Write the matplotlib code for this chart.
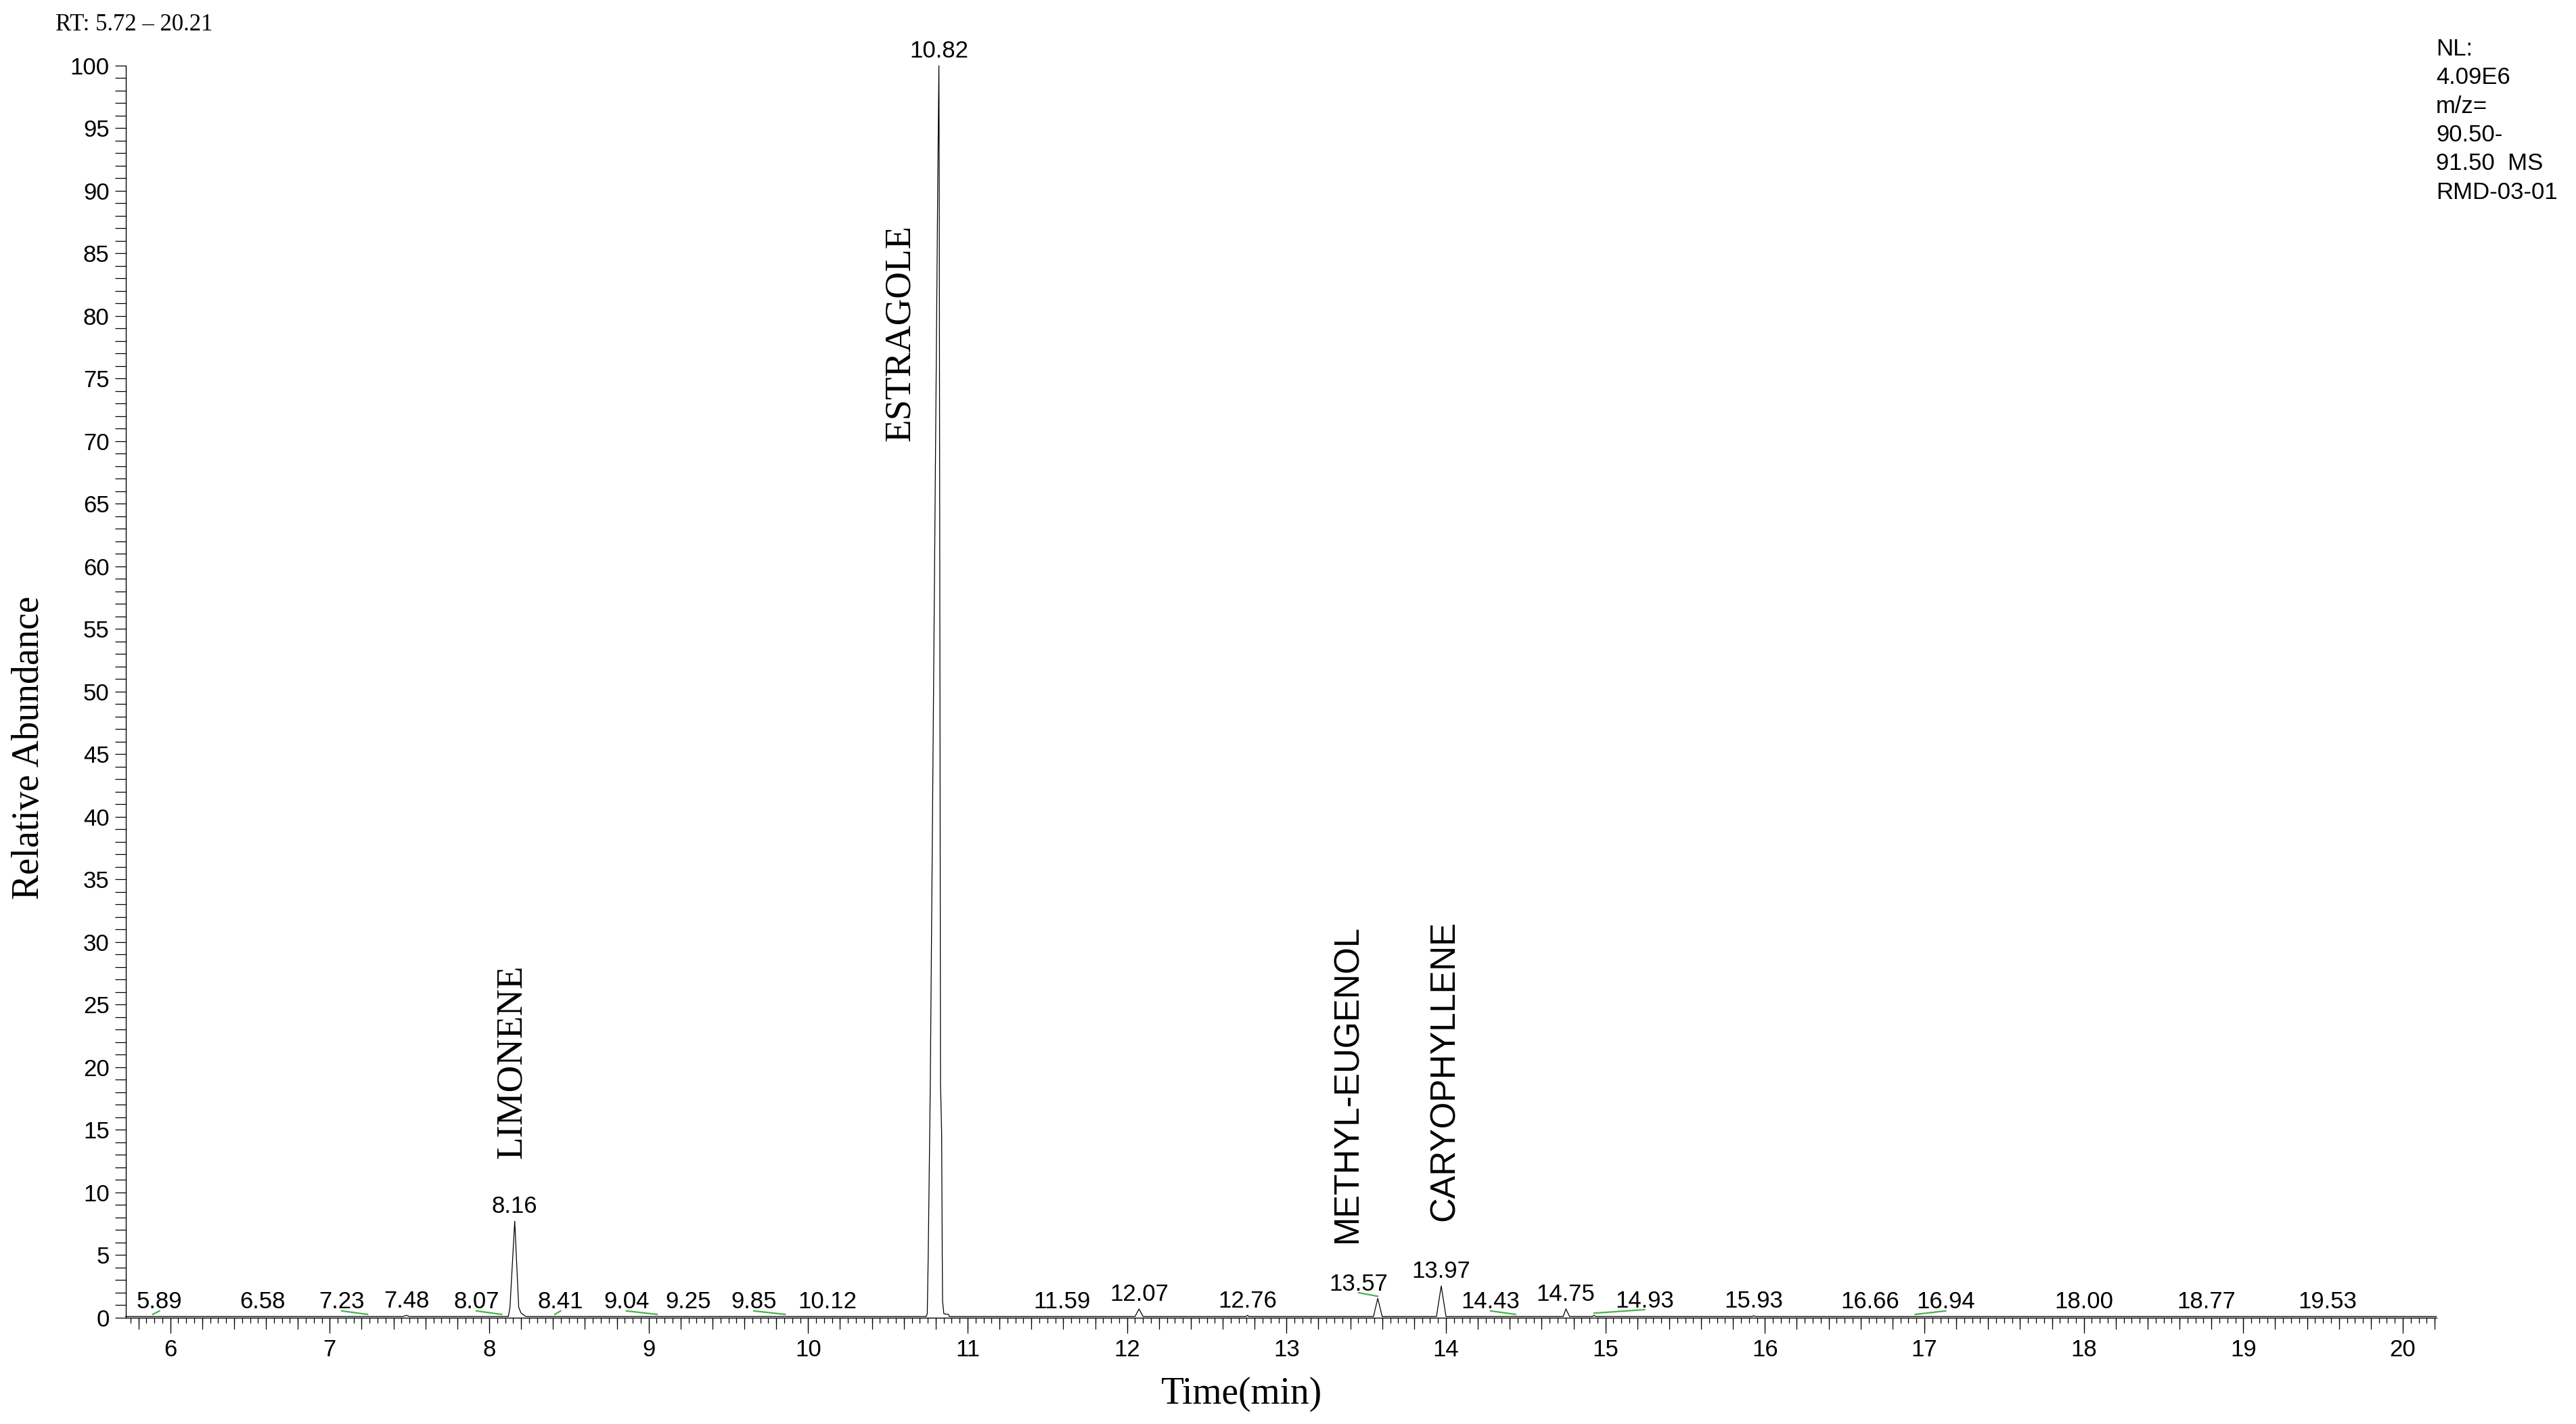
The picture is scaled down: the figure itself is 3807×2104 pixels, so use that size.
import matplotlib
matplotlib.use("Agg")
import matplotlib.pyplot as plt
import numpy as np
from matplotlib.ticker import MultipleLocator

# chromatogram trace, vertices (time in min, relative abundance)
time_min = [5.72, 7.46, 7.48, 7.50,
            8.12, 8.13, 8.16, 8.185, 8.20, 8.23,
            10.74, 10.747, 10.753, 10.766, 10.813, 10.82, 10.822, 10.83,
            10.837, 10.841, 10.843, 10.851, 10.88, 10.886,
            12.05, 12.075, 12.10,
            12.745, 12.755, 12.765,
            13.545, 13.572, 13.60,
            13.94, 13.97, 14.0,
            14.735, 14.752, 14.775,
            14.918, 14.928, 14.94,
            15.92, 15.93, 15.94,
            20.21]
abundance = [0.08, 0.08, 0.18, 0.08,
             0.08, 0.8, 7.7, 0.8, 0.35, 0.08,
             0.08, 0.3, 5.0, 18.7, 91.0, 100.0, 91.0, 18.7,
             14.8, 4.8, 1.3, 0.3, 0.25, 0.08,
             0.08, 0.69, 0.08,
             0.08, 0.18, 0.08,
             0.08, 1.53, 0.08,
             0.08, 2.52, 0.08,
             0.08, 0.69, 0.08,
             0.08, 0.18, 0.08,
             0.08, 0.15, 0.08,
             0.08]

# retention time labels
peak_labels = ["5.89", "6.58", "7.23", "7.48", "8.07", "8.16", "8.41", "9.04", "9.25",
               "9.85", "10.12", "10.82", "11.59", "12.07", "12.76", "13.57", "13.97",
               "14.43", "14.75", "14.93", "15.93", "16.66", "16.94", "18.00", "18.77", "19.53"]
peak_x = [5.89, 6.58, 7.237, 7.48, 8.078, 8.16, 8.412, 9.053, 9.25,
          9.856, 10.12, 10.82, 11.59, 12.075, 12.755, 13.572, 13.97,
          14.435, 14.752, 14.928, 15.93, 16.66, 16.943, 18.00, 18.77, 19.53]
peak_y = [0.08, 0.08, 0.08, 0.18, 0.08, 7.7, 0.08, 0.08, 0.08,
          0.08, 0.08, 100.0, 0.08, 0.69, 0.18, 1.53, 2.52,
          0.08, 0.69, 0.18, 0.15, 0.08, 0.08, 0.08, 0.08, 0.08]
label_x = [5.932, 6.58, 7.075, 7.48, 7.919, 8.16, 8.448, 8.86, 9.25,
           9.659, 10.12, 10.82, 11.59, 12.075, 12.755, 13.452, 13.97,
           14.28, 14.752, 15.245, 15.93, 16.66, 17.133, 18.00, 18.77, 19.53]

# compound names
compounds = ["LIMONENE", "ESTRAGOLE", "METHYL-EUGENOL", "CARYOPHYLLENE"]
compound_x = [8.144, 10.577, 13.384, 13.995]
compound_y = [12.7, 70.0, 6.0, 7.7]
compound_serif = [True, True, False, False]

header_lines = ["NL:", "4.09E6", "m/z=", "90.50-", "91.50  MS", "RMD-03-01"]

SANS = "Liberation Sans"
SERIF = "Liberation Serif"
W, H = 3807, 2104

fig = plt.figure(figsize=(W / 100, H / 100), dpi=100)
ax = fig.add_axes([185.7 / W, 1 - 1946.7 / H, (3600.5 - 185.7) / W, (1946.7 - 97) / H])

ax.plot(time_min, abundance, color="black", lw=0.9, clip_on=False)

for lab, px, py, lx in zip(peak_labels, peak_x, peak_y, label_x):
    ax.text(lx, py + 0.64, lab, ha="center", va="baseline", fontsize=25, family=SANS,
            clip_on=False)
    if abs(lx - px) > 0.01:
        ax.plot([lx, px], [py + 0.45, py + 0.17], color="#45b34a", lw=1.6)

for name, cx, cy, serif in zip(compounds, compound_x, compound_y, compound_serif):
    if serif:
        ax.text(cx, cy, name, rotation=90, ha="center", va="bottom", fontsize=39.5, family=SERIF)
    else:
        ax.text(cx, cy, name, rotation=90, ha="center", va="bottom", fontsize=36.5, family=SANS)

ax.set_xlim(5.72, 20.21)
ax.set_ylim(0, 100)
ax.spines["top"].set_visible(False)
ax.spines["right"].set_visible(False)
ax.spines["left"].set_linewidth(1.0)
ax.spines["bottom"].set_linewidth(1.0)

ax.xaxis.set_major_locator(MultipleLocator(1))
ax.xaxis.set_minor_locator(MultipleLocator(0.05))
ax.yaxis.set_major_locator(MultipleLocator(5))
ax.yaxis.set_minor_locator(MultipleLocator(1))
ax.tick_params(axis="x", which="major", direction="out", length=16.6, width=0.9, pad=5.8,
               labelsize=25)
ax.tick_params(axis="x", which="minor", direction="out", length=5.8, width=0.9)
ax.tick_params(axis="y", which="both", direction="out", length=11.5, width=0.9, pad=5.8,
               labelsize=25)
for t in ax.get_xticklabels() + ax.get_yticklabels():
    t.set_family(SANS)

# medium ticks every 0.2 min
sec = ax.secondary_xaxis("bottom")
sec.xaxis.set_major_locator(MultipleLocator(0.2))
sec.tick_params(axis="x", which="major", direction="out", length=12.2, width=0.9,
                labelbottom=False)
sec.spines["bottom"].set_visible(False)

fig.text(82 / W, 1 - 45 / H, "RT: 5.72 \u2013 20.21", family=SERIF, fontsize=25,
         ha="left", va="baseline")
for i, line in enumerate(header_lines):
    fig.text(3600 / W, 1 - (82 + 42.3 * i) / H, line, family=SANS, fontsize=25,
             ha="left", va="baseline")

fig.text(43 / W, 1 - 1105 / H, "Relative Abundance", family=SERIF, fontsize=40,
         rotation=90, ha="center", va="center")
fig.text(1835 / W, 1 - 2074 / H, "Time(min)", family=SERIF, fontsize=40,
         ha="center", va="baseline")

fig.savefig("out.png", dpi=100)
